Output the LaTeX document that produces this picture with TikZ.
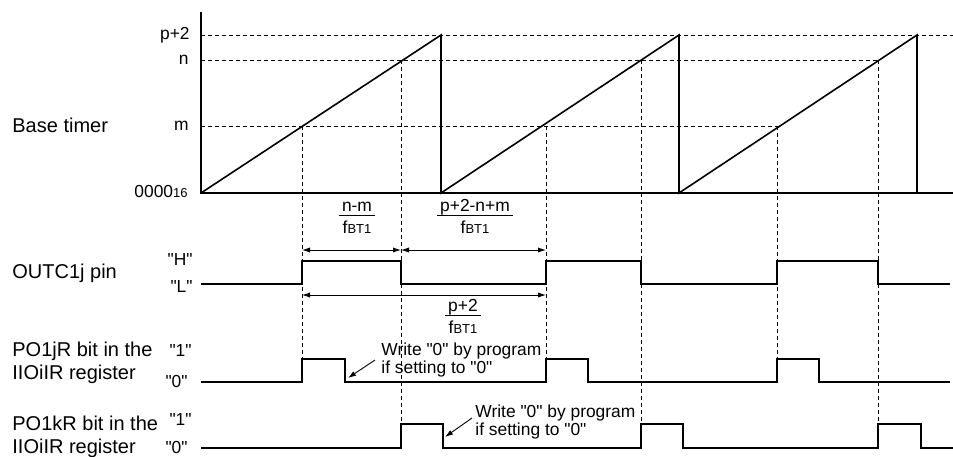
\documentclass[tikz,border=0pt]{standalone}
\usepackage{fontspec}
\setmainfont{Liberation Sans}[Ligatures=TeXOff]
\usetikzlibrary{arrows.meta,positioning}

\newcommand{\fbt}{f{\fontsize{6.5}{6.5}\selectfont BT1}}
\newcommand{\frc}[2]{\begin{tabular}{@{\,}c@{\,}}#1\\[-1pt]\hline\rule{0pt}{9pt}#2\end{tabular}}

\begin{document}
\begin{tikzpicture}[
  x=0.5pt, y=-0.5pt,
  lbl/.style={font=\fontsize{10}{11.5}\selectfont, anchor=west, align=left, inner sep=0pt},
  lvl/.style={font=\fontsize{8.7}{9}\selectfont, anchor=east, inner sep=0pt},
  note/.style={font=\fontsize{8.7}{8.6}\selectfont, anchor=west, align=left, inner sep=0pt},
  frac/.style={font=\fontsize{8.7}{9}\selectfont, inner sep=0pt},
  sig/.style={line width=0.8pt},
  axis/.style={line width=1.2pt},
  guide/.style={dash pattern=on 2pt off 1.5pt, line width=0.5pt},
  dim/.style={{Latex[length=4pt,width=2.6pt]}-{Latex[length=4pt,width=2.6pt]}, line width=0.45pt},
  ptr/.style={-{Latex[length=4pt,width=2.6pt]}, line width=0.45pt}
]
\useasboundingbox (0,0) rectangle (953,456);

% Levels and time points
\coordinate (o) at (201,193);
\coordinate (lp) at (201,35);
\coordinate (ln) at (201,60);
\coordinate (lm) at (201,126);
\coordinate (m1) at (302,126);
\coordinate (n1) at (401,60);
\coordinate (m2) at (546,126);
\coordinate (n2) at (641,60);
\coordinate (m3) at (777,126);
\coordinate (n3) at (878,60);
\coordinate (oh) at (201,261);
\coordinate (ol) at (201,284);
\coordinate (jh) at (201,359);
\coordinate (jl) at (201,382);
\coordinate (kh) at (201,424);
\coordinate (kl) at (201,448);
\coordinate (d1) at (201,250);
\coordinate (d2) at (201,295);

% Base timer
\draw[guide] (lp) -- (953,35);
\draw[guide] (ln) -- (n3);
\draw[guide] (lm) -- (m3);
\draw[axis] (201,12) -- (o) -- (953,193);
\draw[sig] (o) -- (441,35) -- (441,193) -- (679,35) -- (679,193) -- (917,35) -- (917,193);

\node[lbl] (base) at (12,125) {Base timer};
\node[lvl] (vp) at (190,35) {p+2};
\node[lvl] (vn) at (189,60) {n};
\node[lvl] (vm) at (189,126) {m};
\node[lvl] (vz) at (188,192) {0000{\fontsize{6.5}{6.5}\selectfont 16}};

% Guides down to the pulses
\draw[guide] (m1) -- (m1 |- jh);
\draw[guide] (n1) -- (n1 |- kh);
\draw[guide] (m2) -- (m2 |- jh);
\draw[guide] (n2) -- (n2 |- kh);
\draw[guide] (m3) -- (m3 |- jh);
\draw[guide] (n3) -- (n3 |- kh);

% OUTC1j pin
\draw[sig] (ol) -- (m1 |- ol) -- (m1 |- oh) -- (n1 |- oh) -- (n1 |- ol)
  -- (m2 |- ol) -- (m2 |- oh) -- (n2 |- oh) -- (n2 |- ol)
  -- (m3 |- ol) -- (m3 |- oh) -- (n3 |- oh) -- (n3 |- ol) -- (950,284);
\node[lbl] (outc) at (12,273) {OUTC1j pin};
\node[lvl] (vh) at (193,260) {"H"};
\node[lvl] (vl) at (193,287) {"L"};

% Widths
\draw[dim] (m1 |- d1) -- (n1 |- d1);
\draw[dim] (n1 |- d1) -- (m2 |- d1);
\draw[dim] (m1 |- d2) -- (m2 |- d2);
\node[frac] (f1) at (357,219) {\frc{n-m}{\fbt}};
\node[frac] (f2) at (475,219) {\frc{p+2-n+m}{\fbt}};
\node[frac] (f3) at (463,319) {\frc{p+2}{\fbt}};

% PO1jR bit
\draw[sig] (jl) -- (m1 |- jl) -- (m1 |- jh) -- ++(43,0) -- ++(0,23)
  -- (m2 |- jl) -- (m2 |- jh) -- ++(42,0) -- ++(0,23)
  -- (m3 |- jl) -- (m3 |- jh) -- ++(42,0) -- ++(0,23) -- (950,382);
\node[lbl] (po1j) at (12,363) {PO1jR bit in the\\IIOiIR register};
\node[lvl] (j1) at (192,351) {"1"};
\node[lvl] (j0) at (188,382) {"0"};
\node[note] (wj) at (381,360) {Write "0" by program\\if setting to "0"};
\coordinate (wja) at (348,378);
\draw[ptr] (375,360) -- (wja);

% PO1kR bit
\draw[sig] (kl) -- (n1 |- kl) -- (n1 |- kh) -- ++(42,0) -- ++(0,24)
  -- (n2 |- kl) -- (n2 |- kh) -- ++(42,0) -- ++(0,24)
  -- (n3 |- kl) -- (n3 |- kh) -- ++(43,0) -- ++(0,24) -- (953,448);
\node[lbl] (po1k) at (12,437) {PO1kR bit in the\\IIOiIR register};
\node[lvl] (k1) at (192,420) {"1"};
\node[lvl] (k0) at (188,448) {"0"};
\node[note] (wk) at (475,422) {Write "0" by program\\if setting to "0"};
\coordinate (wka) at (445,437);
\draw[ptr] (472,418) -- (wka);

\end{tikzpicture}
\end{document}
